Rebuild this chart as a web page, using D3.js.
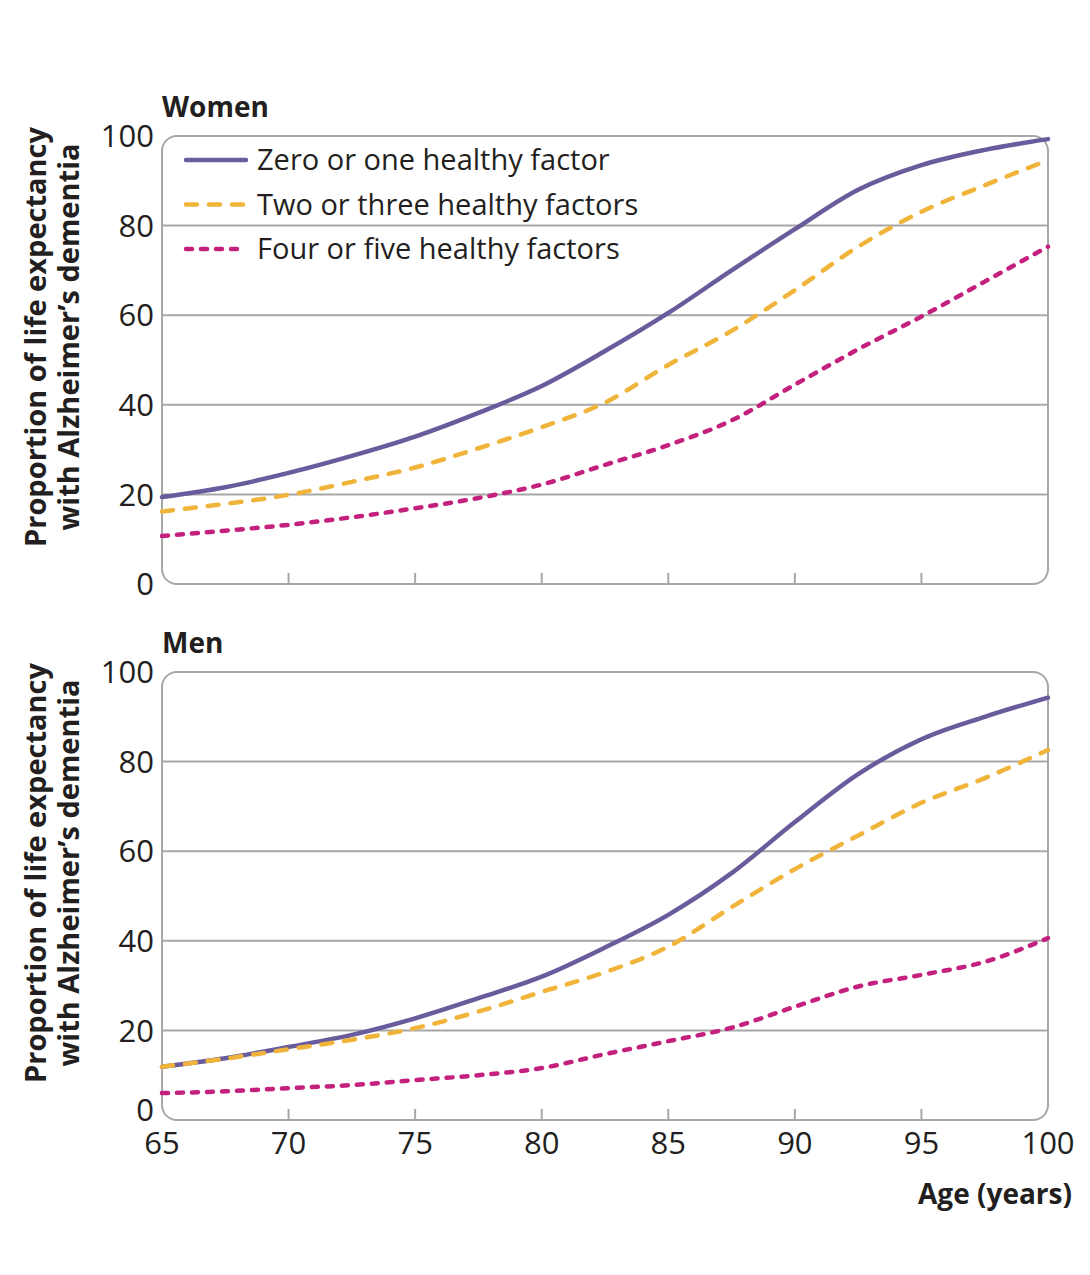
<!DOCTYPE html>
<html lang='en'>
<head>
    <meta charset='UTF-8'>
    <title>Alzheimer's dementia life expectancy</title>
    <script src='https://d3js.org/d3.v7.min.js'></script>
    <style>
        body { margin: 0; background: #fff; }
        text { fill: #231f20; }
    </style>
</head>
<body>
<svg id='chart' width='1090' height='1275'></svg>

<script>
// ages (every 2.5 years)
const ages = [65, 67.5, 70, 72.5, 75, 77.5, 80, 82.5, 85, 87.5, 90, 92.5, 95, 97.5, 100]

// women
const womenLow  = [19.4, 21.6, 24.8, 28.6, 32.9, 38.2, 44.2, 52.0, 60.5, 70.0, 79.2, 88.0, 93.5, 96.9, 99.3]
const womenMid  = [16.2, 17.9, 19.9, 22.8, 26.0, 30.3, 35.0, 40.5, 48.9, 56.5, 65.6, 75.3, 83.1, 89.0, 94.6]
const womenHigh = [10.7, 11.9, 13.2, 14.9, 16.9, 19.2, 22.2, 26.6, 31.0, 36.5, 44.5, 52.4, 59.7, 67.5, 75.3]

// men
const menLow  = [11.9, 13.8, 16.3, 19.0, 22.7, 27.2, 32.0, 38.5, 45.8, 55.1, 66.5, 77.2, 85.0, 90.0, 94.3]
const menMid  = [11.9, 13.7, 15.8, 17.9, 20.5, 24.2, 28.6, 33.0, 38.7, 47.5, 56.0, 63.5, 70.8, 76.3, 82.6]
const menHigh = [6.0, 6.4, 7.1, 7.8, 8.9, 10.0, 11.6, 14.7, 17.6, 20.6, 25.3, 29.8, 32.4, 35.3, 40.6]

const seriesNames = ['Zero or one healthy factor', 'Two or three healthy factors', 'Four or five healthy factors']
const yTicks = [0, 20, 40, 60, 80, 100]
const xTicks = [65, 70, 75, 80, 85, 90, 95, 100]

const panels = [
  {title: 'Women', top: 136, series: [womenLow, womenMid, womenHigh], legend: true, xLabels: false},
  {title: 'Men', top: 672, series: [menLow, menMid, menHigh], legend: false, xLabels: true}
]

// line looks per series
const looks = [
  {color: '#6a5c9c', dash: null},
  {color: '#f0b43a', dash: '11,12'},
  {color: '#c4207e', dash: '6,9'}
]

const svg = d3.select('#chart')
const left = 162, right = 1048, plotH = 448
const gridColor = '#a7a7a7'

const x = d3.scaleLinear().domain([65, 100]).range([left, right])

panels.forEach(p => {
  let y = d3.scaleLinear().domain([0, 100]).range([p.top + plotH, p.top])
  let g = svg.append('g')

  // gridlines
  g.selectAll('line.grid')
    .data(yTicks.filter(t => t > 0 && t < 100)).enter()
    .append('line')
      .attr('x1', left).attr('x2', right)
      .attr('y1', d => y(d)).attr('y2', d => y(d))
      .attr('stroke', gridColor).attr('stroke-width', 2)

  // frame
  g.append('rect')
    .attr('x', left).attr('y', p.top)
    .attr('width', right - left).attr('height', plotH)
    .attr('rx', 15)
    .attr('fill', 'none').attr('stroke', gridColor).attr('stroke-width', 2)

  // small upward ticks on the bottom edge
  g.selectAll('line.tick')
    .data(xTicks.filter(t => t > 65 && t < 100)).enter()
    .append('line')
      .attr('x1', d => x(d)).attr('x2', d => x(d))
      .attr('y1', y(0)).attr('y2', y(0) - 11)
      .attr('stroke', gridColor).attr('stroke-width', 2)

  // y tick labels (bottom panel's 0 sits a little higher, clear of the 65)
  g.selectAll('text.ytick')
    .data(yTicks).enter()
    .append('text')
      .attr('x', 154).attr('y', d => y(d) - (p.xLabels && d === 0 ? 10 : 0))
      .attr('dy', '0.36em')
      .attr('text-anchor', 'end')
      .style('font', '31px "Open Sans", sans-serif')
      .text(d => d)

  // panel title
  g.append('text')
    .attr('x', left).attr('y', p.top - 19)
    .style('font', 'bold 28px "Open Sans", sans-serif')
    .text(p.title)

  // y axis title (two lines)
  let cy = p.top + plotH / 2 - 23
  let yt = g.append('text')
    .attr('transform', `translate(46,${cy}) rotate(-90)`)
    .attr('text-anchor', 'middle')
    .style('font', 'bold 29px "Open Sans", sans-serif')
  yt.append('tspan').attr('x', 0).attr('y', 0).text('Proportion of life expectancy')
  yt.append('tspan').attr('x', 0).attr('y', 33).text('with Alzheimer\u2019s dementia')

  // curves
  let line = d3.line()
    .x((d, i) => x(ages[i]))
    .y(d => y(d))
    .curve(d3.curveMonotoneX)

  p.series.forEach((s, i) => {
    g.append('path')
      .datum(s)
      .attr('d', line)
      .attr('fill', 'none')
      .attr('stroke', looks[i].color)
      .attr('stroke-width', 4.5)
      .attr('stroke-linecap', 'round')
      .attr('stroke-dasharray', looks[i].dash)
  })

  if (p.legend) {
    let lg = g.append('g').attr('transform', 'translate(186,160)')
    seriesNames.forEach((name, i) => {
      let row = lg.append('g').attr('transform', `translate(0,${i * 44.5})`)
      row.append('line')
        .attr('x1', 0).attr('x2', 60)
        .attr('stroke', looks[i].color)
        .attr('stroke-width', 4.5)
        .attr('stroke-linecap', 'round')
        .attr('stroke-dasharray', looks[i].dash)
      row.append('text')
        .attr('x', 71).attr('dy', '0.35em')
        .style('font', '29px "Open Sans", sans-serif')
        .text(name)
    })
  }

  if (p.xLabels) {
    g.selectAll('text.xtick')
      .data(xTicks).enter()
      .append('text')
        .attr('x', d => x(d)).attr('y', y(0) + 34)
        .attr('text-anchor', 'middle')
        .style('font', '31px "Open Sans", sans-serif')
        .text(d => d)

    g.append('text')
      .attr('x', 1072).attr('y', y(0) + 84)
      .attr('text-anchor', 'end')
      .style('font', 'bold 28px "Open Sans", sans-serif')
      .text('Age (years)')
  }
})
</script>
</body>
</html>
